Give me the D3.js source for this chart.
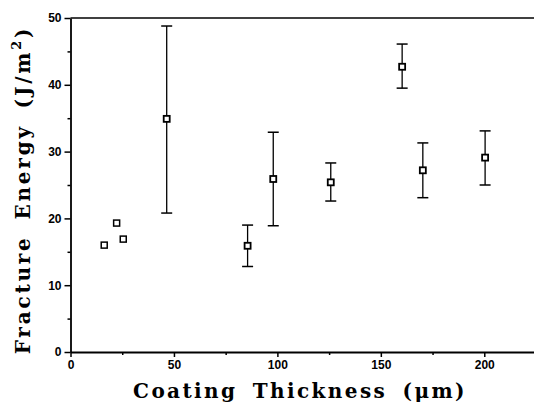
<!DOCTYPE html>
<html>
<head>
<meta charset="utf-8">
<script src="https://cdn.jsdelivr.net/npm/d3@7"></script>
<style>
body { margin: 0; background: #fff; }
.tick text { font-family: "Liberation Sans", Arial, sans-serif; font-weight: bold; font-size: 12px; }
.title { font-family: "DejaVu Serif", serif; font-weight: bold; font-size: 20px; letter-spacing: 2.4px; word-spacing: 6px; fill: #000; }
</style>
</head>
<body>
<div id="chart"></div>
<script>
var width = 534,
    height = 408;

// points without error bars
var plainX = [16.3, 22.3, 25.5];
var plainY = [16.0, 19.3, 16.9];

// points with error bars
var barX = [46.5, 85.6, 98, 125.8, 160.3, 170.3, 200.4];
var barY = [34.9, 15.9, 25.9, 25.4, 42.7, 27.2, 29.1];
var barHigh = [48.8, 19.0, 32.9, 28.3, 46.1, 31.3, 33.1];
var barLow = [20.8, 12.8, 18.9, 22.6, 39.5, 23.1, 25.0];

var xTicks = [0, 50, 100, 150, 200];
var yTicks = [0, 10, 20, 30, 40, 50];

var svg = d3.select("#chart").append("svg")
    .attr("width", width)
    .attr("height", height);

var x = d3.scaleLinear().domain([0, 225]).range([70.5, 536]);
var y = d3.scaleLinear().domain([0, 50]).range([352, 18]);

// frame top line
svg.append("line")
    .attr("x1", x(0)).attr("x2", width)
    .attr("y1", y(50)).attr("y2", y(50))
    .attr("stroke", "black").attr("stroke-width", 1.5);

// x axis
svg.append("g")
    .attr("transform", "translate(0," + y(0) + ")")
    .call(d3.axisBottom(x).tickValues(xTicks).tickSize(5).tickPadding(3).tickSizeOuter(0));
svg.append("g")
    .attr("transform", "translate(0," + y(0) + ")")
    .call(d3.axisBottom(x).tickValues([25, 75, 125, 175]).tickSize(3).tickFormat("").tickSizeOuter(0))
    .select(".domain").remove();

// y axis
svg.append("g")
    .attr("transform", "translate(" + x(0) + ",0)")
    .call(d3.axisLeft(y).tickValues(yTicks).tickSize(6).tickPadding(3).tickSizeOuter(0));
svg.append("g")
    .attr("transform", "translate(" + x(0) + ",0)")
    .call(d3.axisLeft(y).tickValues([5, 15, 25, 35, 45]).tickSize(3).tickFormat("").tickSizeOuter(0))
    .select(".domain").remove();

svg.selectAll(".domain").attr("stroke-width", 1.8);
svg.selectAll(".tick line").attr("stroke-width", 1.5);

// error bars
var idx = d3.range(barX.length);
svg.selectAll(".ebar")
    .data(idx)
    .enter().append("line")
    .attr("class", "ebar")
    .attr("x1", function (i) { return x(barX[i]); })
    .attr("x2", function (i) { return x(barX[i]); })
    .attr("y1", function (i) { return y(barHigh[i]); })
    .attr("y2", function (i) { return y(barLow[i]); })
    .attr("stroke", "black").attr("stroke-width", 1.3);
svg.selectAll(".capTop")
    .data(idx)
    .enter().append("line")
    .attr("class", "capTop")
    .attr("x1", function (i) { return x(barX[i]) - 5.5; })
    .attr("x2", function (i) { return x(barX[i]) + 5.5; })
    .attr("y1", function (i) { return y(barHigh[i]); })
    .attr("y2", function (i) { return y(barHigh[i]); })
    .attr("stroke", "black").attr("stroke-width", 1.5);
svg.selectAll(".capLow")
    .data(idx)
    .enter().append("line")
    .attr("class", "capLow")
    .attr("x1", function (i) { return x(barX[i]) - 5.5; })
    .attr("x2", function (i) { return x(barX[i]) + 5.5; })
    .attr("y1", function (i) { return y(barLow[i]); })
    .attr("y2", function (i) { return y(barLow[i]); })
    .attr("stroke", "black").attr("stroke-width", 1.5);

// square markers
svg.selectAll(".sqBar")
    .data(idx)
    .enter().append("rect")
    .attr("class", "sqBar")
    .attr("x", function (i) { return x(barX[i]) - 3; })
    .attr("y", function (i) { return y(barY[i]) - 3; })
    .attr("width", 6).attr("height", 6)
    .attr("fill", "white").attr("stroke", "black").attr("stroke-width", 1.8);
svg.selectAll(".sqPlain")
    .data(d3.range(plainX.length))
    .enter().append("rect")
    .attr("class", "sqPlain")
    .attr("x", function (i) { return x(plainX[i]) - 3; })
    .attr("y", function (i) { return y(plainY[i]) - 3; })
    .attr("width", 6).attr("height", 6)
    .attr("fill", "white").attr("stroke", "black").attr("stroke-width", 1.5);

// titles
svg.append("text")
    .attr("class", "title")
    .attr("x", 300)
    .attr("y", 398)
    .style("text-anchor", "middle")
    .text("Coating Thickness (\u03BCm)");

var yt = svg.append("text")
    .attr("class", "title")
    .attr("transform", "translate(30,190) rotate(-90)")
    .style("text-anchor", "middle")
    .style("letter-spacing", "2.8px");
yt.append("tspan").text("Fracture Energy (J/m");
yt.append("tspan").attr("dy", -9).attr("font-size", 13).text("2");
yt.append("tspan").attr("dy", 9).text(")");
</script>
</body>
</html>
